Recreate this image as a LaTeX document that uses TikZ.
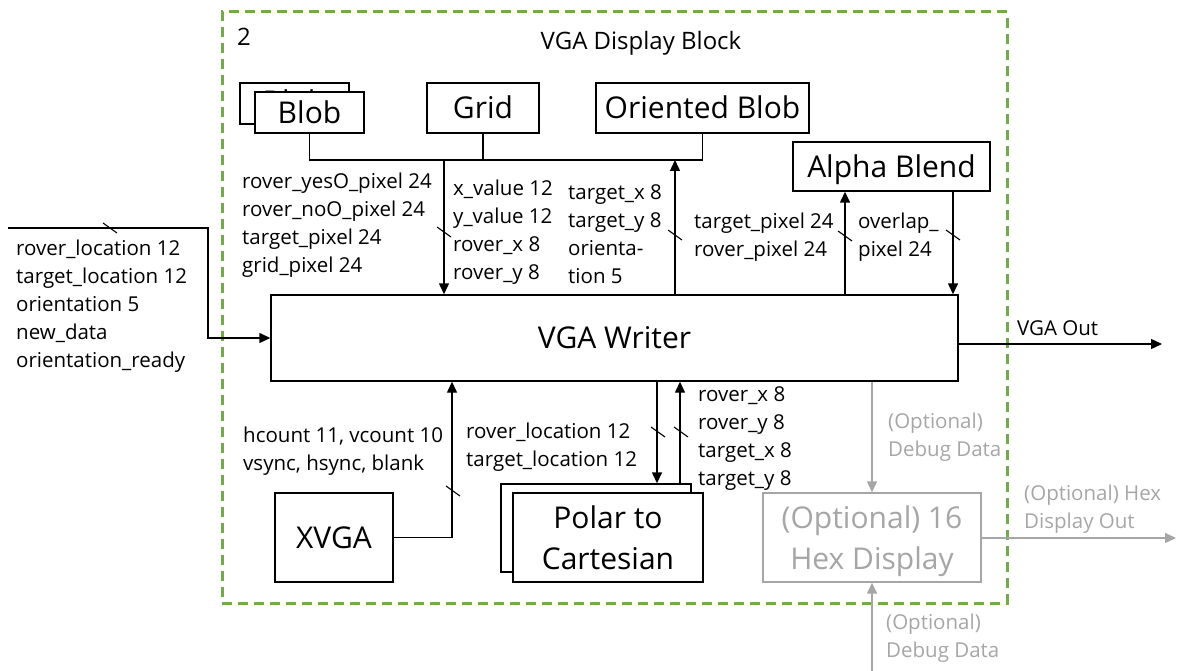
\documentclass[tikz,border=0pt]{standalone}
\usepackage{fontspec}
\setmainfont{Open Sans}
\usetikzlibrary{arrows.meta,calc}
\definecolor{frame}{HTML}{70AD47}
\definecolor{faint}{HTML}{A6A6A6}
\newcommand\busmark[1]{\draw[tick] (#1) ++(-7,-5) -- ++(14,10);}
\begin{document}
\begin{tikzpicture}[x=1pt,y=-1pt,
  big/.style={font=\fontsize{30}{41}\selectfont},
  small/.style={font=\fontsize{20.5}{28}\selectfont},
  box/.style={draw, line width=1.4pt, fill=white, inner sep=0pt, align=center, big},
  onebox/.style={box, text height=21.5pt, text depth=0pt},
  optional/.style={draw=faint, text=faint},
  lbl/.style={inner sep=0pt, anchor=west, align=left, small},
  wire/.style={line width=1.4pt},
  arrow/.style={wire, -{Triangle[length=11pt,width=10pt]}},
  tick/.style={line width=1.1pt},
]
\useasboundingbox (0,0) rectangle (1178,671);

% enclosing block
\node[draw=frame, line width=3pt, dash pattern=on 10pt off 6pt, inner sep=0pt,
      minimum width=785pt, minimum height=591pt] (block) at (614.5,307.5) {};
\node[inner sep=0pt, font=\fontsize{24}{28}\selectfont] (num) at (244,37) {2};
\node[inner sep=0pt, font=\fontsize{24}{28}\selectfont] (title) at (641,43) {VGA Display Block};

% pixel sources (the second Blob sits behind the first one)
\node[box, text height=17.5pt, text depth=0pt, minimum width=109pt, minimum height=41pt] (blobback) at (294.5,103.5) {Blob};
\node[onebox, minimum width=109pt, minimum height=41pt] (blob) at (309.5,112.5) {Blob};
\node[onebox, minimum width=112pt, minimum height=50pt] (grid) at (483,108) {Grid};
\node[onebox, minimum width=213pt, minimum height=50pt] (orient) at (702.5,108) {Oriented Blob};
\node[onebox, minimum width=197pt, minimum height=49pt] (alpha) at (891.5,166.5) {Alpha Blend};

% main writer
\node[onebox, minimum width=687pt, minimum height=86pt] (writer) at (614.5,338) {VGA Writer};

% lower blocks
\node[onebox, minimum width=118pt, minimum height=89pt] (xvga) at (334,537.5) {XVGA};
\node[box, minimum width=190pt, minimum height=88pt] (polarback) at (596,528) {};
\node[box, minimum width=190pt, minimum height=89pt] (polar) at (608,537.5) {Polar to\\Cartesian};
\node[box, optional, text depth=0pt, minimum width=218pt, minimum height=89pt] (hex) at (872,537.5) {(Optional) 16\\Hex Display};

% pixel bus from the sources
\coordinate (bus) at (0,160);
\draw[wire] (blob.south) |- (orient.south |- bus) -- (orient.south);
\draw[wire] (grid.south) -- (grid.south |- bus);
\coordinate (busdown) at (444,160);
\coordinate (busup) at (675,160);
\draw[arrow] (busdown) -- (busdown |- writer.north);
\draw[arrow] (busup |- writer.north) -- (busup);

% alpha blend loop
\coordinate (alphain) at ($(alpha.south)+(-46.5,0)$);
\coordinate (alphaout) at ($(alpha.south)+(61.5,0)$);
\draw[arrow] (alphain |- writer.north) -- (alphain);
\draw[arrow] (alphaout) -- (alphaout |- writer.north);

% external input and output
\coordinate (inL) at (8,228);
\coordinate (inbend) at (208,228);
\draw[arrow] (inL) -- (inbend) |- (writer.west);
\coordinate (vgaout) at (1162,344);
\draw[arrow] (writer.east |- vgaout) -- (vgaout);

% lower connections
\coordinate (xvgaup) at (452,0);
\draw[arrow] (xvga.east) -| (xvgaup |- writer.south);
\coordinate (pdown) at (657,0);
\coordinate (pup) at (680,0);
\draw[arrow] (pdown |- writer.south) -- (pdown |- polarback.north);
\draw[arrow] (pup |- polarback.north) -- (pup |- writer.south);

% optional hex display
\coordinate (hexout) at (1176,538);
\coordinate (hexin) at (872,671);
\draw[arrow, draw=faint, fill=faint] (writer.south -| hex.north) -- (hex.north);
\draw[arrow, draw=faint, fill=faint] (hex.east |- hexout) -- (hexout);
\draw[arrow, draw=faint, fill=faint] (hexin) -- (hex.south);

% bus width marks
\busmark{110,228}
\busmark{444,232}
\busmark{675,235}
\busmark{845,236}
\busmark{953,235}
\busmark{453,491}
\busmark{658,432}
\busmark{681,432}

% signal labels
\node[lbl] (lsrc) at (242,225) {rover\_yesO\_pixel 24\\rover\_noO\_pixel 24\\target\_pixel 24\\grid\_pixel 24};
\node[lbl] (lgrid) at (453,232) {x\_value 12\\y\_value 12\\rover\_x 8\\rover\_y 8};
\node[lbl] (lorient) at (568,234) {target\_x 8\\target\_y 8\\orienta-\\tion 5};
\node[lbl] (lalphain) at (694,237) {target\_pixel 24\\rover\_pixel 24};
\node[lbl] (lalphaout) at (858,237) {overlap\_\\pixel 24};
\node[lbl] (lin) at (16,306.5) {rover\_location 12\\target\_location 12\\orientation 5\\new\_data\\orientation\_ready};
\node[lbl] (lout) at (1017,328) {VGA Out};
\node[lbl] (lxvga) at (243,451.5) {hcount 11, vcount 10\\vsync, hsync, blank};
\node[lbl] (lpin) at (466,447) {rover\_location 12\\target\_location 12};
\node[lbl] (lpout) at (698,439) {rover\_x 8\\rover\_y 8\\target\_x 8\\target\_y 8};
\node[lbl, text=faint] (ldbg) at (888,437) {(Optional)\\Debug Data};
\node[lbl, text=faint] (lhexout) at (1024,509.5) {(Optional) Hex\\Display Out};
\node[lbl, text=faint] (ldbgin) at (886,638.5) {(Optional)\\Debug Data};
\end{tikzpicture}
\end{document}
